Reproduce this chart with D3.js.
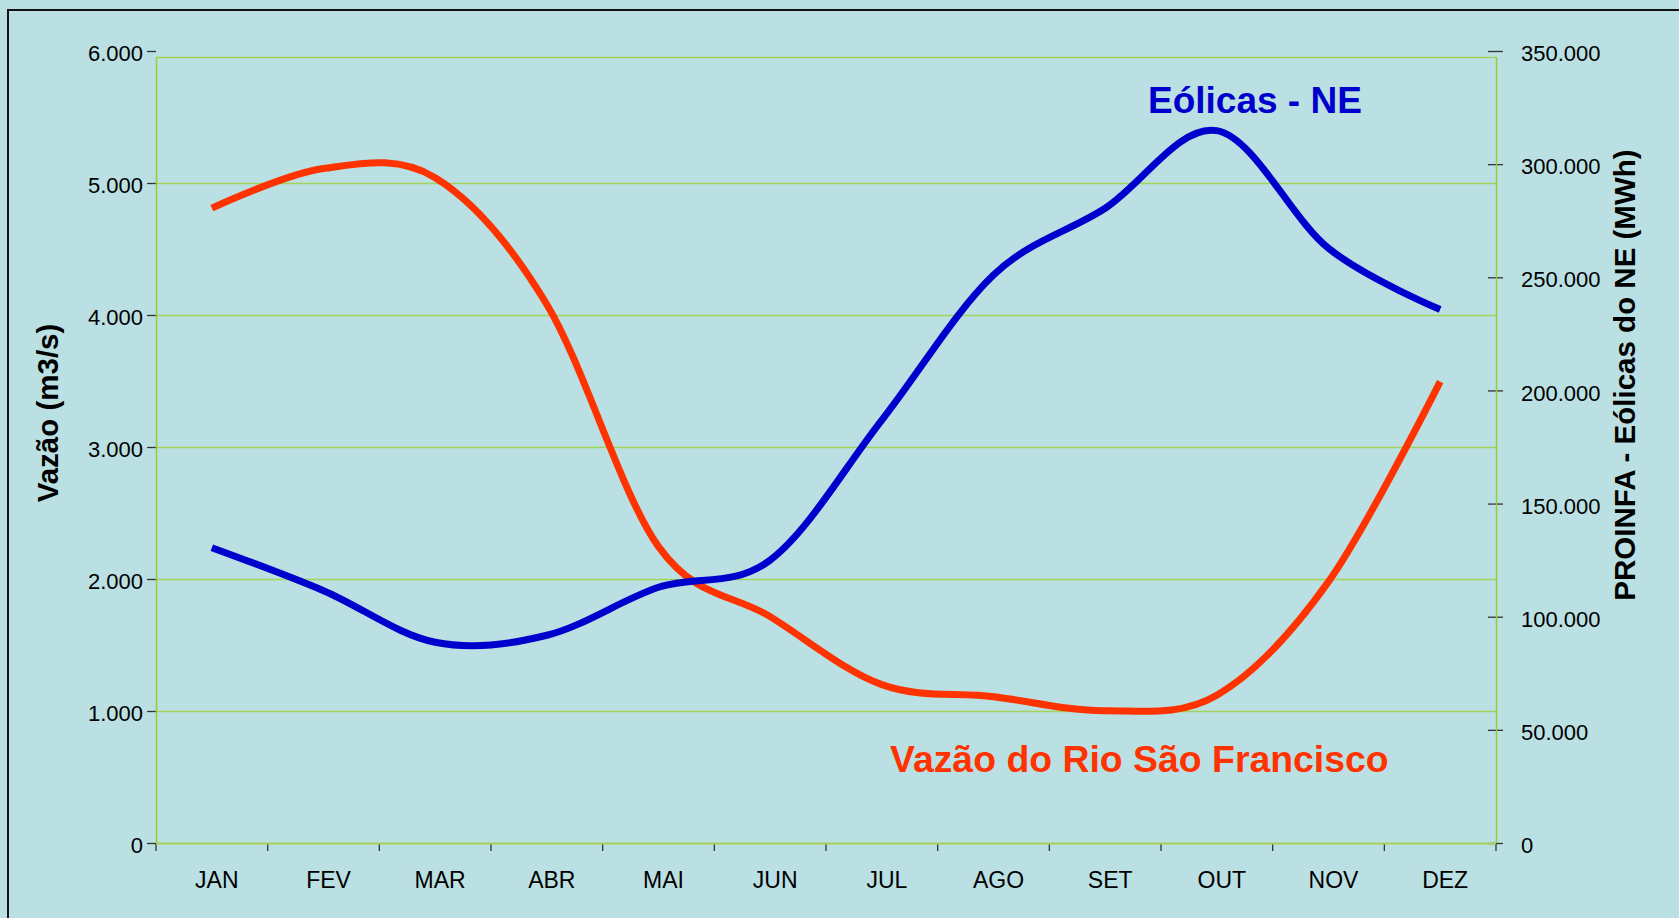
<!DOCTYPE html>
<html>
<head>
<meta charset="utf-8">
<script src="https://cdn.jsdelivr.net/npm/d3@7"></script>
<style>
  html, body { margin: 0; padding: 0; background: #BBE0E3; overflow: hidden; }
  svg { display: block; }
  text { font-family: "Liberation Sans", Arial, Helvetica, sans-serif; fill: #000; }
</style>
</head>
<body>
<svg id="chart" width="1679" height="918"></svg>
<script>
// ---- Data ----
const months = ["JAN","FEV","MAR","ABR","MAI","JUN","JUL","AGO","SET","OUT","NOV","DEZ"];
const vazao = [4810, 5110, 5040, 4080, 2245, 1715, 1200, 1108, 1002, 1120, 1980, 3495];
const eolicas = [130500, 111500, 88700, 91800, 113000, 125000, 186900, 251000, 280500, 314800, 262800, 235800];
const leftTicks = [0, 1000, 2000, 3000, 4000, 5000, 6000];
const rightTicks = [0, 50000, 100000, 150000, 200000, 250000, 300000, 350000];
const leftTitle = "Vazão (m3/s)";
const rightTitle = "PROINFA - Eólicas do NE (MWh)";
const labelEolicas = "Eólicas - NE";
const labelVazao = "Vazão do Rio São Francisco";

// ---- Layout ----
const W = 1679, H = 918;
const plotL = 156, plotR = 1496, plotB = 843, plotT = 57, axisTop = 51;
const gridColor = "#A3D15A";
const axisColor = "#9BCB2E";
const tickColor = "#333";

const svg = d3.select("#chart");
svg.append("rect").attr("x", 0).attr("y", 0).attr("width", W).attr("height", H).attr("fill", "#BBE0E3");
svg.append("rect").attr("x", 8).attr("y", 10).attr("width", 1700).attr("height", 1000)
   .attr("fill", "none").attr("stroke", "#111").attr("stroke-width", 2);

const fmt = d3.formatLocale({decimal: ",", thousands: ".", grouping: [3], currency: ["", ""]}).format(",");

const x = d3.scaleBand().domain(months).range([plotL, plotR]).padding(0);
const yL = d3.scaleLinear().domain([0, 6000]).range([plotB, axisTop]);
const yR = d3.scaleLinear().domain([0, 350000]).range([plotB, axisTop]);

// gridlines
svg.append("g").selectAll("line").data(leftTicks.filter(d => d > 0 && d < 6000)).join("line")
  .attr("x1", plotL).attr("x2", plotR)
  .attr("y1", d => Math.round(yL(d)) + 0.5).attr("y2", d => Math.round(yL(d)) + 0.5)
  .attr("stroke", gridColor).attr("stroke-width", 1.3);
// plot frame top
svg.append("line").attr("x1", plotL).attr("x2", plotR).attr("y1", plotT + 0.5).attr("y2", plotT + 0.5)
  .attr("stroke", gridColor).attr("stroke-width", 1.3);

// left axis
const gL = svg.append("g").attr("transform", `translate(${plotL},0)`)
  .call(d3.axisLeft(yL).tickValues(leftTicks).tickFormat(fmt).tickSize(9).tickPadding(4));
gL.select(".domain").remove();
gL.selectAll(".tick line").attr("stroke", tickColor).attr("stroke-width", 1.3);
gL.selectAll(".tick text").attr("font-size", 22).attr("dy", "0.42em")
  .style("font-family", '"Liberation Sans", Arial, sans-serif').attr("fill", "#000");

// right axis
const gR = svg.append("g").attr("transform", `translate(${plotR},0)`)
  .call(d3.axisRight(yR).tickValues(rightTicks).tickFormat(fmt).tickSizeInner(7).tickSizeOuter(0).tickPadding(18));
gR.select(".domain").remove();
gR.selectAll(".tick line").attr("x1", -8).attr("x2", 7).attr("stroke", tickColor).attr("stroke-width", 1.3);
gR.selectAll(".tick text").attr("font-size", 22).attr("dy", "0.44em")
  .style("font-family", '"Liberation Sans", Arial, sans-serif').attr("fill", "#000");

// bottom axis (ticks at category boundaries)
const bounds = months.map(m => x(m)).concat([plotR]);
svg.append("g").selectAll("line").data(bounds).join("line")
  .attr("x1", d => d).attr("x2", d => d).attr("y1", plotB).attr("y2", plotB + 8)
  .attr("stroke", tickColor).attr("stroke-width", 1.3);
svg.append("g").selectAll("text").data(months).join("text")
  .attr("x", d => x(d) + x.bandwidth() / 2 + 5).attr("y", 888)
  .attr("text-anchor", "middle").attr("font-size", 23).text(d => d);

// axis lines (green)
svg.append("line").attr("x1", plotL + 0.5).attr("x2", plotL + 0.5).attr("y1", plotT).attr("y2", plotB)
  .attr("stroke", axisColor).attr("stroke-width", 1.5);
svg.append("line").attr("x1", plotR + 0.5).attr("x2", plotR + 0.5).attr("y1", plotT).attr("y2", plotB)
  .attr("stroke", axisColor).attr("stroke-width", 1.5);
svg.append("line").attr("x1", plotL).attr("x2", plotR).attr("y1", plotB + 0.5).attr("y2", plotB + 0.5)
  .attr("stroke", gridColor).attr("stroke-width", 2);

// axis titles
svg.append("text").attr("transform", "translate(58,413) rotate(-90)")
  .attr("text-anchor", "middle").attr("font-size", 29.5).attr("font-weight", "bold").text(leftTitle);
svg.append("text").attr("transform", "translate(1635,375) rotate(-90)")
  .attr("text-anchor", "middle").attr("font-size", 29.5).attr("font-weight", "bold").text(rightTitle);

// lines
const cx = (d, i) => x(months[i]) + x.bandwidth() / 2;
const curve = d3.curveCardinal.tension(0);
svg.append("path").datum(vazao)
  .attr("d", d3.line().x(cx).y(d => yL(d)).curve(curve))
  .attr("fill", "none").attr("stroke", "#FF3300").attr("stroke-width", 7);
svg.append("path").datum(eolicas)
  .attr("d", d3.line().x(cx).y(d => yR(d)).curve(curve))
  .attr("fill", "none").attr("stroke", "#0000CC").attr("stroke-width", 7);

// annotations
svg.append("text").attr("x", 1148).attr("y", 113).attr("font-size", 37).attr("font-weight", "bold")
  .attr("fill", "#0000CC").style("fill", "#0000CC").text(labelEolicas);
svg.append("text").attr("x", 890).attr("y", 772).attr("font-size", 37.4).attr("font-weight", "bold")
  .attr("fill", "#FF3300").style("fill", "#FF3300").text(labelVazao);
</script>
</body>
</html>
